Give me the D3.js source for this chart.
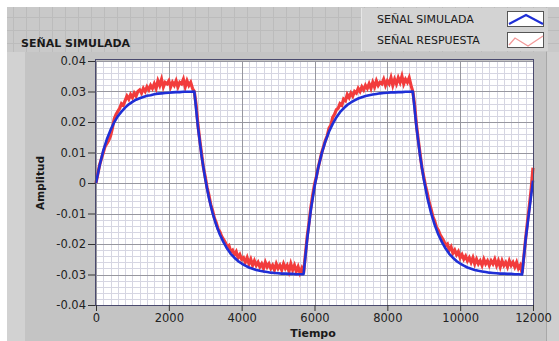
<!DOCTYPE html>
<html>
<head>
<meta charset="utf-8">
<script src="https://cdn.jsdelivr.net/npm/d3@7"></script>
<style>
  body { margin: 0; background: #fff; }
  svg { display: block; font-family: 'DejaVu Sans', Verdana, sans-serif; }
</style>
</head>
<body>
<svg id="chart" width="559" height="341"></svg>
<script>
// tick labels
const xTicks = [0, 2000, 4000, 6000, 8000, 10000, 12000];
const yTicks = [-0.04, -0.03, -0.02, -0.01, 0, 0.01, 0.02, 0.03, 0.04];

const legendNames = ['SEÑAL SIMULADA', 'SEÑAL RESPUESTA'];

// SEÑAL SIMULADA, one sample every 100
const simStep = 100;
const simulada = [
  0, 0.0058, 0.0106, 0.0144, 0.0174, 0.0199, 0.0219, 0.0234, 0.0247, 0.0258,
  0.0266, 0.0273, 0.0278, 0.0282, 0.0286, 0.0288, 0.0291, 0.0293, 0.0294, 0.0295,
  0.0296, 0.0297, 0.0298, 0.0298, 0.0299, 0.0299, 0.0299, 0.0300, 0.0183, 0.0088,
  0.0013, -0.0049, -0.0098, -0.0137, -0.0169, -0.0194, -0.0215, -0.0232, -0.0245, -0.0256,
  -0.0264, -0.0271, -0.0277, -0.0281, -0.0285, -0.0288, -0.0290, -0.0292, -0.0294, -0.0295,
  -0.0296, -0.0297, -0.0297, -0.0298, -0.0298, -0.0299, -0.0299, -0.0299, -0.0183, -0.0088,
  -0.0013, 0.0049, 0.0098, 0.0137, 0.0169, 0.0194, 0.0215, 0.0232, 0.0245, 0.0256,
  0.0264, 0.0271, 0.0277, 0.0281, 0.0285, 0.0288, 0.0290, 0.0292, 0.0294, 0.0295,
  0.0296, 0.0297, 0.0297, 0.0298, 0.0298, 0.0299, 0.0299, 0.0300, 0.0183, 0.0088,
  0.0013, -0.0049, -0.0098, -0.0137, -0.0169, -0.0194, -0.0215, -0.0232, -0.0245, -0.0256,
  -0.0264, -0.0271, -0.0277, -0.0281, -0.0285, -0.0288, -0.0290, -0.0292, -0.0294, -0.0295,
  -0.0296, -0.0297, -0.0297, -0.0298, -0.0298, -0.0299, -0.0299, -0.0300, -0.0183, -0.0088,
  0.0008
];

// SEÑAL RESPUESTA, one sample every 50
const respStep = 50;
const respuesta = [
  0, 0.003, 0.006, 0.008, 0.010, 0.012, 0.013, 0.014, 0.0155, 0.018,
  0.021, 0.0225, 0.0235, 0.0245, 0.026, 0.0255, 0.027, 0.0285, 0.0275, 0.029,
  0.028, 0.0295, 0.0285, 0.030, 0.0305, 0.0295, 0.031, 0.030, 0.0315, 0.0305,
  0.032, 0.031, 0.0325, 0.031, 0.0335, 0.032, 0.034, 0.0315, 0.033, 0.0325,
  0.0335, 0.0315, 0.033, 0.032, 0.0335, 0.0315, 0.033, 0.0325, 0.034, 0.0315,
  0.0335, 0.032, 0.033, 0.031, 0.030, 0.0255, 0.019, 0.014, 0.0095, 0.005,
  0.002, -0.0015, -0.004, -0.007, -0.009, -0.0115, -0.013, -0.015, -0.016, -0.0175,
  -0.0185, -0.0195, -0.021, -0.0205, -0.0225, -0.022, -0.0235, -0.0225, -0.0245, -0.0235,
  -0.025, -0.0245, -0.026, -0.0245, -0.0265, -0.025, -0.027, -0.0255, -0.027, -0.026,
  -0.0275, -0.0265, -0.028, -0.026, -0.0275, -0.0265, -0.028, -0.027, -0.0285, -0.0265,
  -0.028, -0.027, -0.0285, -0.0265, -0.028, -0.027, -0.029, -0.0265, -0.0285, -0.027,
  -0.029, -0.0275, -0.0295, -0.028, -0.0295, -0.0235, -0.0175, -0.013, -0.008, -0.004,
  -0.0005, 0.002, 0.005, 0.0075, 0.010, 0.012, 0.014, 0.0155, 0.018, 0.019,
  0.0215, 0.0225, 0.024, 0.0245, 0.026, 0.0255, 0.0275, 0.027, 0.029, 0.028,
  0.0295, 0.0285, 0.030, 0.0295, 0.031, 0.030, 0.0315, 0.0305, 0.032, 0.031,
  0.0325, 0.031, 0.033, 0.0315, 0.0335, 0.032, 0.033, 0.0325, 0.034, 0.032,
  0.0335, 0.0325, 0.0345, 0.032, 0.034, 0.0325, 0.0345, 0.033, 0.035, 0.0325,
  0.034, 0.033, 0.0345, 0.032, 0.030, 0.0255, 0.019, 0.014, 0.0095, 0.005,
  0.002, -0.001, -0.0035, -0.0065, -0.0085, -0.011, -0.0125, -0.0145, -0.0155, -0.017,
  -0.018, -0.019, -0.0205, -0.020, -0.022, -0.021, -0.023, -0.022, -0.0235, -0.0225,
  -0.0245, -0.0235, -0.025, -0.024, -0.0255, -0.0245, -0.026, -0.0245, -0.0265, -0.025,
  -0.0265, -0.0255, -0.027, -0.025, -0.0265, -0.0255, -0.027, -0.0255, -0.0265, -0.025,
  -0.027, -0.0255, -0.0275, -0.0255, -0.027, -0.026, -0.0275, -0.0255, -0.027, -0.026,
  -0.0275, -0.026, -0.028, -0.027, -0.0295, -0.024, -0.018, -0.0125, -0.0075, -0.002,
  0.005
];

const svg = d3.select('#chart');

const plot = { left: 96, right: 533, top: 61, bottom: 305 };

const x = d3.scaleLinear().domain([0, 12000]).range([plot.left, plot.right]);
const y = d3.scaleLinear().domain([-0.04, 0.04]).range([plot.bottom, plot.top]);

drawPanel();
drawGrid();
drawSeries();
drawAxes();
drawLegend();

function drawPanel() {
  // front panel background with the little editing grid
  svg.append('rect')
    .attr('x', 7).attr('y', 7).attr('width', 552).attr('height', 334)
    .attr('fill', '#c9c9c9');

  const bg = svg.append('g').attr('stroke', '#bcbcbc').attr('stroke-width', 1);
  for (let gx = 13; gx < 559; gx += 13) {
    bg.append('line').attr('x1', gx + 0.5).attr('x2', gx + 0.5).attr('y1', 7).attr('y2', 52);
  }
  for (let gy = 17; gy < 52; gy += 13) {
    bg.append('line').attr('x1', 7).attr('x2', 559).attr('y1', gy + 0.5).attr('y2', gy + 0.5);
  }

  // graph frame
  svg.append('rect')
    .attr('x', 7).attr('y', 52).attr('width', 541).attr('height', 289)
    .attr('fill', '#c4c4c4');
  svg.append('rect')
    .attr('x', 7).attr('y', 52).attr('width', 18).attr('height', 289)
    .attr('fill', '#d2d2d2');
  svg.append('rect')
    .attr('x', 546).attr('y', 52).attr('width', 13).attr('height', 289)
    .attr('fill', '#cfcfcf');
  svg.append('line')
    .attr('x1', 546.5).attr('x2', 546.5).attr('y1', 52).attr('y2', 341)
    .attr('stroke', '#a8a8a8');

  svg.append('text')
    .attr('x', 21).attr('y', 47)
    .attr('font-size', 11).attr('font-weight', 'bold')
    .attr('fill', '#1a1a1a')
    .text('SEÑAL SIMULADA');

  svg.append('rect')
    .attr('x', plot.left).attr('y', plot.top)
    .attr('width', plot.right - plot.left).attr('height', plot.bottom - plot.top)
    .attr('fill', '#ffffff');
}

function drawGrid() {
  const grid = svg.append('g');
  const minorX = d3.range(0, 12001, 200);
  const minorY = d3.range(-40, 41, 2).map(v => v / 1000);

  grid.selectAll('line.mx')
    .data(minorX)
    .enter().append('line')
    .attr('x1', d => Math.round(x(d)) + 0.5).attr('x2', d => Math.round(x(d)) + 0.5)
    .attr('y1', plot.top).attr('y2', plot.bottom)
    .attr('stroke', '#d6d6e2');
  grid.selectAll('line.my')
    .data(minorY)
    .enter().append('line')
    .attr('y1', d => Math.round(y(d)) + 0.5).attr('y2', d => Math.round(y(d)) + 0.5)
    .attr('x1', plot.left).attr('x2', plot.right)
    .attr('stroke', '#d6d6e2');

  grid.selectAll('line.Mx')
    .data(xTicks)
    .enter().append('line')
    .attr('x1', d => Math.round(x(d)) + 0.5).attr('x2', d => Math.round(x(d)) + 0.5)
    .attr('y1', plot.top).attr('y2', plot.bottom)
    .attr('stroke', '#97979f');
  grid.selectAll('line.My')
    .data(yTicks)
    .enter().append('line')
    .attr('y1', d => Math.round(y(d)) + 0.5).attr('y2', d => Math.round(y(d)) + 0.5)
    .attr('x1', plot.left).attr('x2', plot.right)
    .attr('stroke', '#97979f');
}

function drawSeries() {
  const line = d3.line()
    .x(d => x(d[0]))
    .y(d => y(d[1]));

  const resp = respuesta.map((v, i) => [i * respStep, v]);
  const sim = simulada.map((v, i) => [i * simStep, v]);

  // noisy response is drawn as a thick ragged band
  svg.append('path')
    .datum(resp)
    .attr('d', line)
    .attr('fill', 'none')
    .attr('stroke', '#f23c3c')
    .attr('stroke-width', 3.2)
    .attr('stroke-linejoin', 'miter');

  svg.append('path')
    .datum(sim)
    .attr('d', line)
    .attr('fill', 'none')
    .attr('stroke', '#1f2fd6')
    .attr('stroke-width', 2.6)
    .attr('stroke-linejoin', 'round');

  // plot border
  svg.append('rect')
    .attr('x', plot.left - 0.5).attr('y', plot.top - 1.5)
    .attr('width', plot.right - plot.left + 1).attr('height', plot.bottom - plot.top + 2)
    .attr('fill', 'none')
    .attr('stroke', '#4a4a6e');
}

function drawAxes() {
  const yAxis = d3.axisLeft(y)
    .tickValues(yTicks)
    .tickSize(7)
    .tickPadding(2)
    .tickFormat(d => d === 0 ? '0' : d.toFixed(2));
  const xAxis = d3.axisBottom(x)
    .tickValues(xTicks)
    .tickSize(6)
    .tickPadding(3)
    .tickFormat(d => String(d));

  const gy = svg.append('g')
    .attr('transform', `translate(${plot.left - 1},0)`)
    .call(yAxis);
  const gx = svg.append('g')
    .attr('transform', `translate(0,${plot.bottom})`)
    .call(xAxis);

  [gx, gy].forEach(g => {
    g.select('.domain').remove();
    g.selectAll('line').attr('stroke', '#333');
    g.selectAll('text')
      .attr('fill', '#222')
      .style('font-family', "'DejaVu Sans', Verdana, sans-serif")
      .style('font-size', '11.5px');
  });

  svg.append('text')
    .attr('transform', 'translate(44,183) rotate(-90)')
    .attr('text-anchor', 'middle')
    .attr('font-size', 10.5).attr('font-weight', 'bold')
    .attr('fill', '#1a1a1a')
    .text('Amplitud');

  svg.append('text')
    .attr('x', 313).attr('y', 337)
    .attr('text-anchor', 'middle')
    .attr('font-size', 11).attr('font-weight', 'bold')
    .attr('fill', '#1a1a1a')
    .text('Tiempo');
}

function drawLegend() {
  const lg = svg.append('g');
  lg.append('rect')
    .attr('x', 361).attr('y', 8).attr('width', 187).attr('height', 43)
    .attr('fill', '#d3d3d3');
  lg.append('line')
    .attr('x1', 361.5).attr('x2', 361.5).attr('y1', 8).attr('y2', 51)
    .attr('stroke', '#e6e6e6');

  const colors = ['#1f2fd6', '#f29a9a'];
  const shapes = [
    [[0, 11], [17, 2], [34, 11]],
    [[0, 11], [6, 4], [19, 12], [34, 2]]
  ];

  legendNames.forEach((name, i) => {
    const cy = 19 + i * 21;
    lg.append('text')
      .attr('x', 377).attr('y', cy + 4)
      .attr('font-size', 11)
      .attr('fill', '#1a1a1a')
      .text(name);
    lg.append('rect')
      .attr('x', 507.5).attr('y', cy - 7.5).attr('width', 36).attr('height', 15)
      .attr('fill', '#ffffff')
      .attr('stroke', '#555');
    lg.append('path')
      .attr('d', d3.line()(shapes[i].map(p => [509 + p[0], cy - 6 + p[1]])))
      .attr('fill', 'none')
      .attr('stroke', colors[i])
      .attr('stroke-width', i === 0 ? 2.2 : 1.3);
  });
}
</script>
</body>
</html>
